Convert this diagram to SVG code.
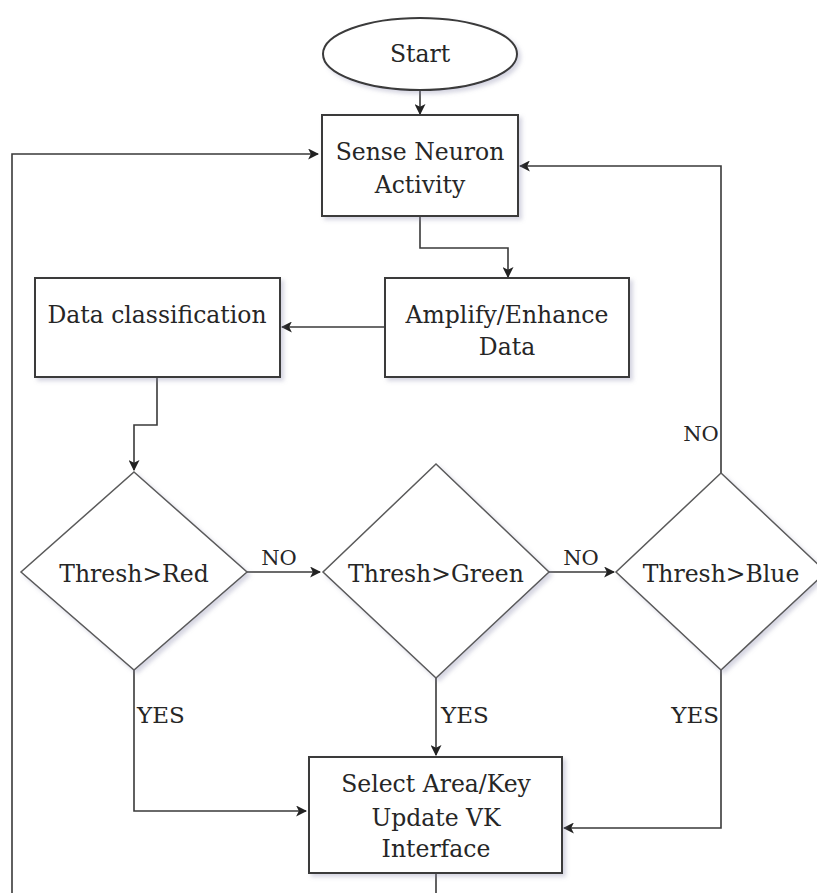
<svg xmlns="http://www.w3.org/2000/svg" width="817" height="893" viewBox="0 0 817 893">
<style>
.shape{fill:#fff;stroke:#3a3a3a;stroke-width:2;filter:url(#sh)}
.dia{fill:#fff;stroke:#5a5a5a;stroke-width:1.5;filter:url(#sh)}
.edge{fill:none;stroke:#3a3a3a;stroke-width:1.6;marker-end:url(#ah)}
.line{fill:none;stroke:#3a3a3a;stroke-width:1.6}
text{font-family:"DejaVu Serif","Liberation Serif",serif;font-size:23.5px;fill:#262626;text-anchor:middle}
.lbl{font-size:21px}
.y{font-size:23px;text-anchor:start}
</style>
<defs>
<filter id="sh" x="-10%" y="-10%" width="130%" height="130%">
<feDropShadow dx="3" dy="3" stdDeviation="2" flood-color="#8888aa" flood-opacity="0.35"/>
</filter>
<marker id="ah" viewBox="0 0 10 10" refX="9" refY="5" markerWidth="11" markerHeight="11" markerUnits="userSpaceOnUse" orient="auto">
<path d="M0,0 L10,5 L0,10 L2.5,5 Z" fill="#222"/>
</marker>
</defs>
<g id="connectors">
<path class="edge" d="M420,90 V114"/>
<path class="edge" d="M420,216 V248 H508 V277"/>
<path class="edge" d="M385,327 H282"/>
<path class="edge" d="M157,377 V425 H134 V470"/>
<path class="edge" d="M247,572 H320"/>
<path class="edge" d="M549,572 H614"/>
<path class="edge" d="M721,473 V166 H520"/>
<path class="edge" d="M134,670 V811 H306"/>
<path class="edge" d="M436,678 V755"/>
<path class="edge" d="M721,670 V828 H564"/>
<path class="line" d="M436,873 V893"/>
<path class="edge" d="M12,893 V154 H318"/>
<text class="lbl" x="279" y="565">NO</text>
<text class="lbl" x="581" y="565">NO</text>
<text class="lbl" x="701" y="441">NO</text>
<text class="y" x="137" y="723">YES</text>
<text class="y" x="441" y="723">YES</text>
<text class="y" x="719" y="723" style="text-anchor:end">YES</text>
</g>
<g id="start">
<ellipse class="shape" cx="420" cy="54" rx="97" ry="36"/>
<text x="420" y="62">Start</text>
</g>
<g id="sense">
<rect class="shape" x="322" y="115" width="196" height="101"/>
<text x="420" y="160">Sense Neuron</text>
<text x="420" y="193">Activity</text>
</g>
<g id="amplify">
<rect class="shape" x="385" y="278" width="244" height="99"/>
<text x="507" y="323">Amplify/Enhance</text>
<text x="507" y="355">Data</text>
</g>
<g id="classify">
<rect class="shape" x="35" y="278" width="245" height="99"/>
<text x="157" y="323">Data classification</text>
</g>
<g id="red">
<polygon class="dia" points="134,472 247,572 134,670 21,572"/>
<text x="134" y="582">Thresh&gt;Red</text>
</g>
<g id="green">
<polygon class="dia" points="436,464 549,572 436,678 323,572"/>
<text x="436" y="582">Thresh&gt;Green</text>
</g>
<g id="blue">
<polygon class="dia" points="721,473 826,572 721,670 616,572"/>
<text x="721" y="582">Thresh&gt;Blue</text>
</g>
<g id="select">
<rect class="shape" x="309" y="757" width="253" height="116"/>
<text x="436" y="792">Select Area/Key</text>
<text x="436" y="826">Update VK</text>
<text x="436" y="857">Interface</text>
</g>
</svg>
